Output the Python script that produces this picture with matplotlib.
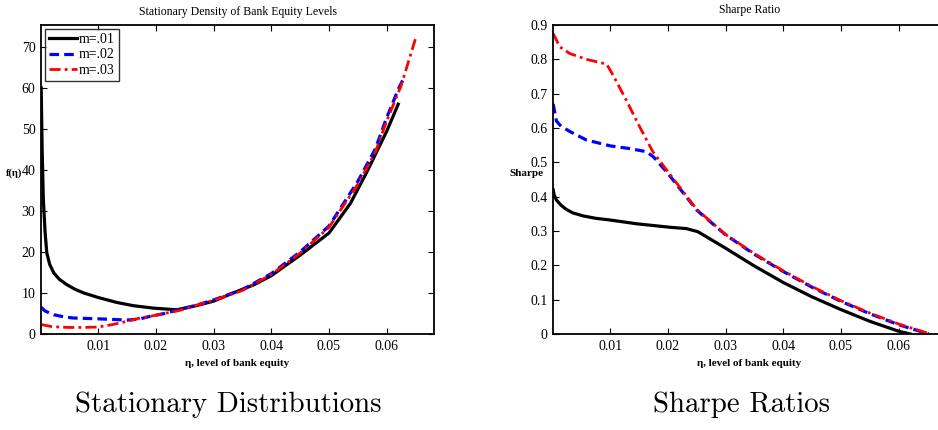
import matplotlib
matplotlib.use("Agg")
import matplotlib.pyplot as plt
from matplotlib.ticker import FuncFormatter

# --- stationary density f(eta) ---
eta_d1 = [0.00013, 0.0003, 0.0005, 0.0008, 0.0011, 0.0016, 0.0023, 0.0033, 0.0046, 0.006,
          0.0075, 0.01, 0.0132, 0.0161, 0.0196, 0.0236, 0.027, 0.03, 0.0334, 0.037, 0.04,
          0.045, 0.05, 0.0537, 0.0565, 0.06, 0.062]
dens_1 = [60, 45, 33, 25, 19.8, 17, 14.9, 13.3, 12, 10.9,
          10, 8.9, 7.7, 6.9, 6.3, 5.9, 6.9, 8, 10, 12, 14.2,
          19.2, 24.6, 31.8, 39.3, 49.4, 56]

eta_d2 = [0.00013, 0.0008, 0.0023, 0.004, 0.0057, 0.01, 0.015, 0.017, 0.019, 0.0215, 0.0236,
          0.027, 0.03, 0.035, 0.04, 0.045, 0.05, 0.055, 0.058, 0.06, 0.062, 0.063]
dens_2 = [6.5, 5.6, 4.7, 4.2, 3.9, 3.7, 3.4, 3.6, 4.3, 5.0, 5.8,
          7.0, 8.3, 10.8, 14.7, 20, 26.3, 37.2, 45, 52.7, 59.6, 62.5]

eta_d3 = [0.00013, 0.002, 0.0046, 0.0075, 0.01, 0.0125, 0.015, 0.017, 0.019, 0.0215, 0.024,
          0.027, 0.03, 0.035, 0.04, 0.045, 0.05, 0.055, 0.058, 0.06, 0.0625, 0.065]
dens_3 = [2.3, 1.8, 1.6, 1.6, 1.7, 2.3, 3.1, 3.8, 4.3, 5.0, 5.7,
          7.0, 8.2, 10.6, 14.5, 19.7, 26.0, 36.5, 44.2, 51.9, 60.5, 72]

# --- Sharpe ratios ---
eta_s1 = [0.00013, 0.0003, 0.0007, 0.0015, 0.0024, 0.0035, 0.0053, 0.0075, 0.01, 0.0146,
          0.0203, 0.0232, 0.0252, 0.0275, 0.03, 0.035, 0.04, 0.045, 0.05, 0.055, 0.06, 0.062]
sharpe_1 = [0.42, 0.405, 0.39, 0.375, 0.363, 0.353, 0.344, 0.337, 0.332, 0.321,
            0.311, 0.307, 0.298, 0.275, 0.25, 0.198, 0.15, 0.108, 0.071, 0.037, 0.008, 0.0]

eta_s2 = [0.00013, 0.0007, 0.0015, 0.003, 0.0059, 0.01, 0.0134, 0.0163, 0.0175, 0.02,
          0.025, 0.03, 0.035, 0.04, 0.045, 0.05, 0.055, 0.06, 0.0652]
sharpe_2 = [0.67, 0.62, 0.605, 0.59, 0.565, 0.548, 0.54, 0.531, 0.516, 0.468,
            0.361, 0.289, 0.232, 0.182, 0.136, 0.095, 0.059, 0.027, 0.0]

eta_s3 = [0.00013, 0.0013, 0.003, 0.0059, 0.0094, 0.0105, 0.0128, 0.0151, 0.0174, 0.02,
          0.025, 0.03, 0.035, 0.04, 0.045, 0.05, 0.055, 0.06, 0.0655]
sharpe_3 = [0.875, 0.836, 0.817, 0.8, 0.786, 0.754, 0.681, 0.604, 0.531, 0.473,
            0.363, 0.29, 0.234, 0.184, 0.138, 0.097, 0.061, 0.029, 0.0]

labels = ["m=.01", "m=.02", "m=.03"]
x_ticks = [0.01, 0.02, 0.03, 0.04, 0.05, 0.06]

plt.rcParams['font.family'] = ['Liberation Serif', 'DejaVu Serif']
plt.rcParams['font.size'] = 10

W, H = 938, 430
fig = plt.figure(figsize=(W / 100, H / 100), dpi=100)

ax1 = fig.add_axes([41 / W, (H - 334) / H, 393 / W, 309 / H])
ax2 = fig.add_axes([553 / W, (H - 334) / H, 393 / W, 309 / H])

styles = [dict(color='black', ls='-', lw=2.3),
          dict(color='blue', ls=(0, (3, 1.6)), lw=2.3),
          dict(color='red', ls=(0, (4, 1.5, 1, 1.5)), lw=2.0)]

for x, y, lab, st in zip([eta_d1, eta_d2, eta_d3], [dens_1, dens_2, dens_3], labels, styles):
    ax1.plot(x, y, label=lab, **st)
for x, y, st in zip([eta_s1, eta_s2, eta_s3], [sharpe_1, sharpe_2, sharpe_3], styles):
    ax2.plot(x, y, **st)

fmt = FuncFormatter(lambda v, p: '%g' % round(v, 3))
for ax in (ax1, ax2):
    ax.set_xlim(0.0001, 0.0682)
    ax.set_xticks(x_ticks)
    ax.xaxis.set_major_formatter(fmt)
    ax.yaxis.set_major_formatter(fmt)
    ax.tick_params(direction='in', top=True, right=True, length=4, width=0.8,
                   labelsize=10, pad=4)
    for s in ax.spines.values():
        s.set_linewidth(1.3)
    ax.set_xlabel('\u03b7, level of bank equity', fontsize=8, fontweight='bold', labelpad=5)

ax1.set_ylim(0, 75.3)
ax1.set_yticks(range(0, 71, 10))
ax2.set_ylim(0, 0.9)
ax2.set_yticks([i / 10 for i in range(10)])

ax1.set_title('Stationary Density of Bank Equity Levels', fontsize=8.5, pad=7)
ax2.set_title('Sharpe Ratio', fontsize=8.5, pad=9)

fig.text(6 / W, (H - 173) / H, 'f(\u03b7)', fontsize=7.5, fontweight='bold', ha='left', va='center')
fig.text(509 / W, (H - 174) / H, 'Sharpe', fontsize=8, fontweight='bold', ha='left', va='center')

leg = ax1.legend(loc='upper left', fontsize=10, frameon=True, fancybox=False,
                 handlelength=2.0, handletextpad=0.1, borderpad=0.3, labelspacing=0.15,
                 borderaxespad=0.3)
leg.get_frame().set_edgecolor('black')
leg.get_frame().set_linewidth(1.0)

fig.text(228 / W, (H - 405) / H, 'Stationary Distributions', fontfamily='cmr10',
         fontsize=20.8, ha='center', va='center')
fig.text(741 / W, (H - 405) / H, 'Sharpe Ratios', fontfamily='cmr10',
         fontsize=20.8, ha='center', va='center')

fig.savefig('out.png', dpi=100)
